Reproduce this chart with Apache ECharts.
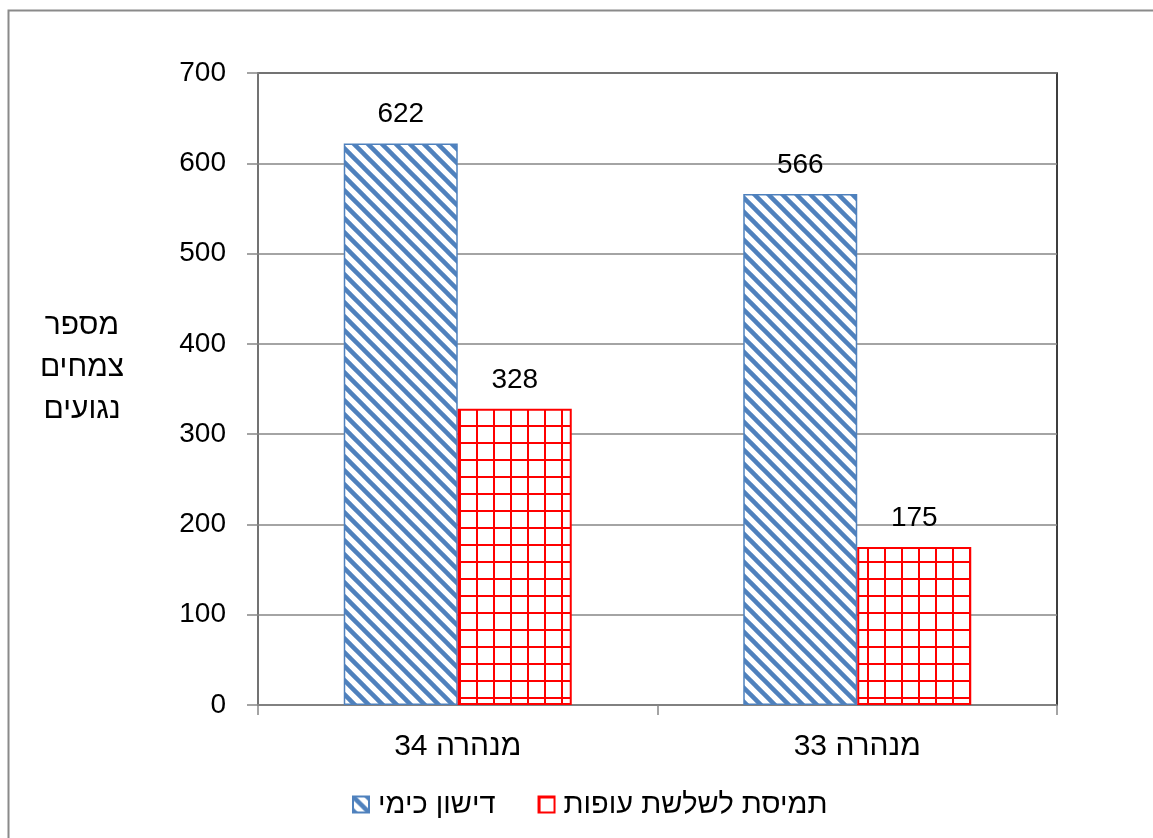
<!DOCTYPE html>
<html>
<head>
<meta charset="utf-8">
<script src="https://cdn.jsdelivr.net/npm/echarts@6/dist/echarts.min.js"></script>
<style>
  html, body { margin: 0; padding: 0; background: #fff; }
  #chart { width: 1153px; height: 838px; }
</style>
</head>
<body>
<div id="chart"></div>
<script>
// Tunnels compared, and infected plants per treatment
const categories = ['מנהרה 34', 'מנהרה 33'];
const seriesNames = ['דישון כימי', 'תמיסת לשלשת עופות'];
const chemicalFertilizer = [622, 566];
const poultryManure = [328, 175];
const yTicks = [0, 100, 200, 300, 400, 500, 600, 700];
const yAxisTitle = 'מספר\nצמחים\nנגועים';

const FONT = '"Liberation Sans", "DejaVu Sans", sans-serif';
const FS_NUM = 28;   // numeric labels
const FS_TEXT = 30;  // Hebrew labels
const BLUE = '#4F81BD';
const RED = '#FF0000';

// Diagonal "\" stripe tile for the chemical fertilizer bars
function stripeTile() {
  const s = 14;
  const c = document.createElement('canvas');
  c.width = s; c.height = s;
  const g = c.getContext('2d');
  g.fillStyle = '#fff';
  g.fillRect(0, 0, s, s);
  g.strokeStyle = BLUE;
  g.lineWidth = 4.5;
  for (let k = -2; k <= 2; k++) {
    g.beginPath();
    g.moveTo(-s, -s + k * s);
    g.lineTo(2 * s, 2 * s + k * s);
    g.stroke();
  }
  return c;
}

// Square grid tile for the poultry manure bars
function gridTile() {
  const s = 17;
  const c = document.createElement('canvas');
  c.width = s; c.height = s;
  const g = c.getContext('2d');
  g.fillStyle = '#fff';
  g.fillRect(0, 0, s, s);
  g.fillStyle = RED;
  g.fillRect(0, 0, 2, s);
  g.fillRect(0, 0, s, 2);
  return c;
}

const chart = echarts.init(document.getElementById('chart'), null, { renderer: 'canvas' });

const labelStyle = {
  show: true,
  position: 'top',
  distance: 15,
  color: '#000',
  fontFamily: FONT,
  fontSize: FS_NUM
};

chart.setOption({
  animation: false,
  backgroundColor: '#fff',
  textStyle: { fontFamily: FONT },
  graphic: [{
    type: 'rect',
    shape: { x: 8.5, y: 10.5, width: 1200, height: 900 },
    style: { fill: 'none', stroke: '#8a8a8a', lineWidth: 2 },
    silent: true,
    z: -10
  }],
  grid: {
    left: 258, right: 96, top: 73, bottom: 133,
    show: true,
    borderColor: '#000',
    borderWidth: 1.5,
    backgroundColor: 'transparent'
  },
  legend: {
    left: 347,
    top: 785,
    itemWidth: 16,
    itemHeight: 16,
    itemGap: 42,
    textStyle: { color: '#000', fontFamily: FONT, fontSize: 29, padding: [0, 0, 0, 4] },
    data: seriesNames.map(function (n) { return { name: n, icon: 'rect' }; })
  },
  xAxis: {
    type: 'category',
    data: categories,
    axisLine: { lineStyle: { color: '#868686', width: 1.5 } },
    axisTick: { show: true, length: 10, lineStyle: { color: '#868686', width: 1.5 } },
    axisLabel: { color: '#000', fontFamily: FONT, fontSize: FS_TEXT, margin: 27 }
  },
  yAxis: {
    type: 'value',
    min: yTicks[0],
    max: yTicks[yTicks.length - 1],
    interval: yTicks[1] - yTicks[0],
    // trailing blank line lifts the three-line title above the axis midpoint
    name: yAxisTitle + '\n ',
    nameLocation: 'middle',
    nameRotate: 0,
    nameGap: 176,
    nameTextStyle: {
      color: '#000', fontFamily: FONT, fontSize: FS_TEXT, lineHeight: 42,
      align: 'center', padding: [8, 0, 0, 0]
    },
    axisLine: { show: true, lineStyle: { color: '#868686', width: 1.5 } },
    axisTick: { show: true, length: 11, lineStyle: { color: '#868686', width: 1.5 } },
    axisLabel: { color: '#000', fontFamily: FONT, fontSize: FS_NUM, margin: 32 },
    splitLine: { lineStyle: { color: '#868686', width: 1.5 } }
  },
  series: [
    {
      name: seriesNames[0],
      type: 'bar',
      data: chemicalFertilizer,
      barWidth: 114,
      barGap: '0%',
      itemStyle: {
        color: { image: stripeTile(), repeat: 'repeat' },
        borderColor: BLUE,
        borderWidth: 1.5
      },
      label: labelStyle
    },
    {
      name: seriesNames[1],
      type: 'bar',
      data: poultryManure,
      barWidth: 114,
      barGap: '0%',
      itemStyle: {
        color: { image: gridTile(), repeat: 'repeat' },
        borderColor: RED,
        borderWidth: 2
      },
      label: labelStyle
    }
  ]
});
</script>
</body>
</html>
